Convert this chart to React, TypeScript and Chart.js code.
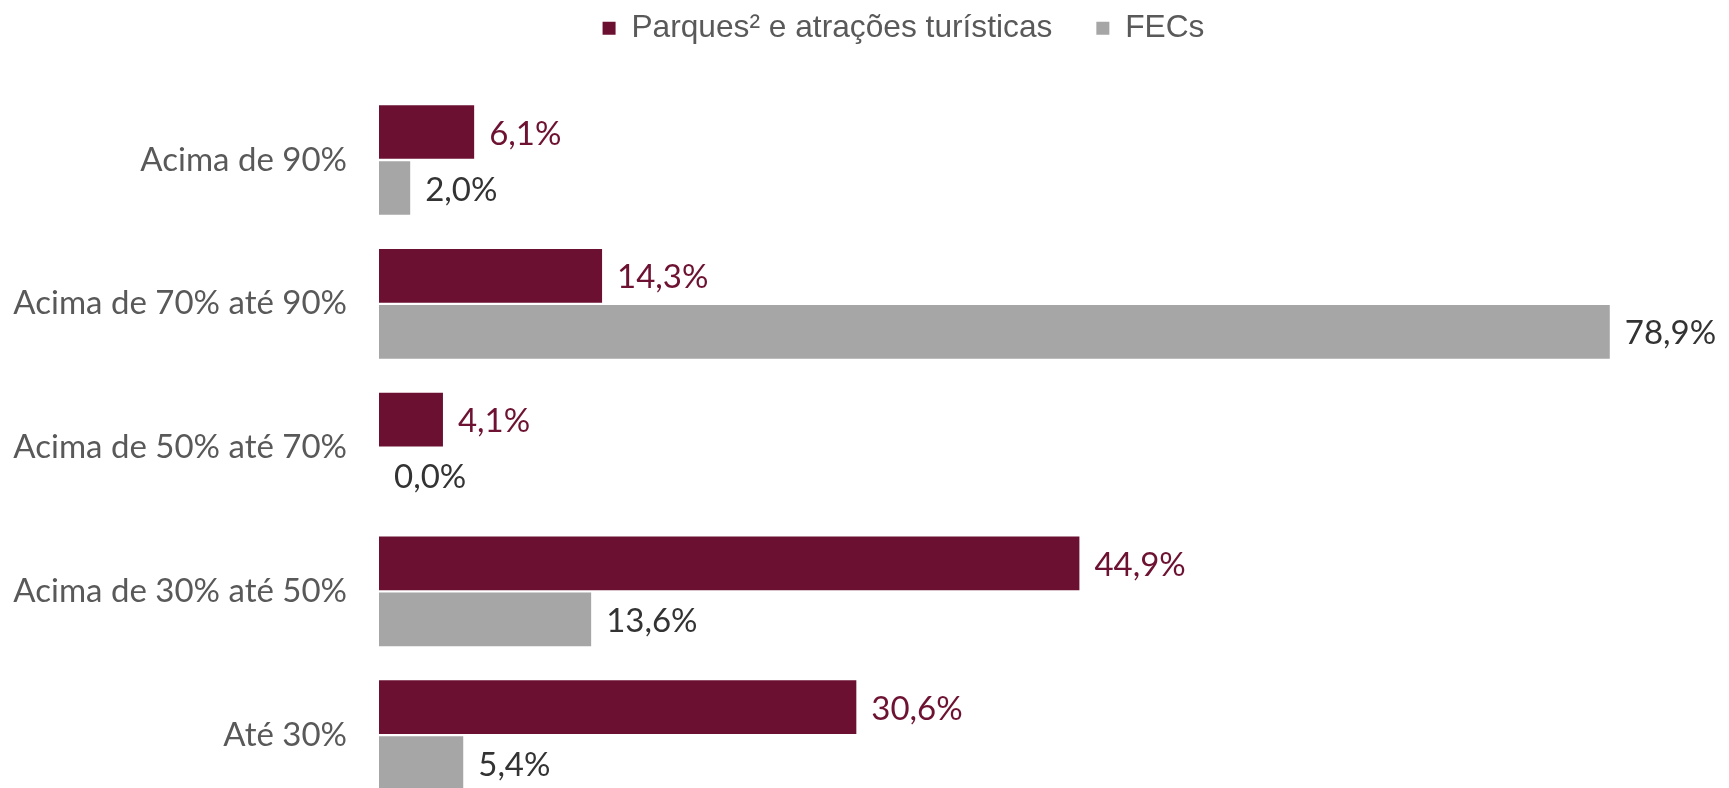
import React, { useEffect, useRef } from "react";
import { Chart, registerables } from "chart.js";

Chart.register(...registerables);

const categories = [
  "Acima de 90%",
  "Acima de 70% até 90%",
  "Acima de 50% até 70%",
  "Acima de 30% até 50%",
  "Até 30%",
];
const seriesNames = ["Parques² e atrações turísticas", "FECs"];
const parques = [6.1, 14.3, 4.1, 44.9, 30.6];
const fecs = [2.0, 78.9, 0.0, 13.6, 5.4];

const barColors = ["#6b1031", "#a6a6a6"];
const labelColors = ["#6d1232", "#333333"];

const CANVAS_W = 1713;
const CANVAS_H = 780;

// layout constants (pixel geometry of the reference)
const Y_MIN = -0.7357;
const Y_MAX = 4.298;
const X_MAX = 86.03;

const fmt = (v: number) => v.toFixed(1).replace(".", ",") + "%";

const valueLabels = {
  id: "valueLabels",
  afterLayout(chart: any) {
    // let the category labels extend left of the axis box without being clipped
    if (chart.scales.y) chart.scales.y.left = 0;
  },
  afterDatasetsDraw(chart: any) {
    const ctx = chart.ctx;
    const all = [parques, fecs];
    chart.data.datasets.forEach((_ds: any, di: number) => {
      const meta = chart.getDatasetMeta(di);
      meta.data.forEach((bar: any, i: number) => {
        ctx.save();
        ctx.font = "33px Lato, 'Open Sans', sans-serif";
        ctx.fillStyle = labelColors[di];
        ctx.textAlign = "left";
        ctx.textBaseline = "middle";
        ctx.fillText(fmt(all[di][i]), bar.x + 15, bar.y + 2);
        ctx.restore();
      });
    });
  },
};

export default function App() {
  const ref = useRef<HTMLCanvasElement | null>(null);
  useEffect(() => {
    if (!ref.current) return;
    const chart = new Chart(ref.current, {
      type: "bar",
      data: {
        datasets: [
          {
            label: seriesNames[0],
            data: parques.map((v, i) => ({ x: v, y: i })),
            backgroundColor: barColors[0],
            borderWidth: 0,
            clip: false as any,
          },
          {
            label: seriesNames[1],
            data: fecs.map((v, i) => ({ x: v, y: i })),
            backgroundColor: barColors[1],
            borderWidth: 0,
            clip: false as any,
          },
        ],
      },
      options: {
        indexAxis: "y",
        responsive: false,
        animation: false,
        categoryPercentage: 0.779,
        barPercentage: 0.959,
        layout: { padding: { top: -39.5, right: 0, left: 78, bottom: 0 } },
        scales: {
          x: { type: "linear", min: 0, max: X_MAX, display: false },
          y: {
            type: "linear",
            reverse: true,
            min: Y_MIN,
            max: Y_MAX,
            offset: false,
            afterBuildTicks: (scale: any) => {
              scale.ticks = categories.map((_, i) => ({ value: i }));
            },
            afterFit: (scale: any) => {
              scale.width = 293;
            },
            grid: {
              display: true,
              drawOnChartArea: false,
              drawTicks: true,
              tickLength: 32,
              color: "rgba(0,0,0,0)",
            },
            border: { display: false },
            ticks: {
              autoSkip: false,
              padding: 0,
              color: "#595959",
              font: { family: "Lato, 'Open Sans', sans-serif", size: 33, lineHeight: "20px" } as any,
              callback: (value: any) => categories[value as number] ?? "",
            },
          },
        },
        plugins: {
          legend: {
            display: true,
            position: "top",
            labels: {
              boxWidth: 13,
              boxHeight: 13,
              padding: 44,
              color: "#595959",
              font: { family: "'Liberation Sans', Arial, sans-serif", size: 31.7 },
            },
          },
          tooltip: { enabled: false },
        },
      },
      plugins: [valueLabels],
    });
    return () => chart.destroy();
  }, []);
  return (
    <canvas
      ref={ref}
      width={CANVAS_W}
      height={CANVAS_H}
      style={{ display: "block", width: CANVAS_W + "px", height: CANVAS_H + "px" }}
    />
  );
}
